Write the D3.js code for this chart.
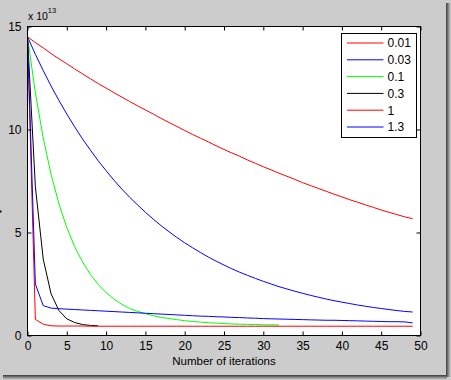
<!DOCTYPE html>
<html><head><meta charset="utf-8">
<script src="https://cdn.jsdelivr.net/npm/d3@7"></script>
<style>
html,body{margin:0;padding:0;background:#cccccc;}
svg{display:block;}
text{font-family:"Liberation Sans",Arial,sans-serif;fill:#000;}
</style></head>
<body>
<svg id="chart" width="451" height="380"></svg>
<script>
// ---- data (values in units of 1e13) ----
const seriesNames = ["0.01","0.03","0.1","0.3","1","1.3"];
const seriesColors = ["#ff0000","#0000ff","#00ff00","#000000","#ff0000","#0000ff"];
const xTicks = [0,5,10,15,20,25,30,35,40,45,50];
const yTicks = [0,5,10,15];
const exponentLabel = "13";
const xLabel = "Number of iterations";

const alpha001 = [14.50,14.22,13.96,13.69,13.43,13.19,12.94,12.70,12.46,12.23,12.01,11.79,11.57,11.36,11.15,10.95,10.75,10.54,10.34,10.15,9.95,9.76,9.58,9.40,9.21,9.03,8.86,8.70,8.52,8.36,8.19,8.04,7.88,7.73,7.58,7.42,7.28,7.14,7.00,6.86,6.73,6.59,6.47,6.34,6.22,6.09,5.98,5.87,5.76,5.67];
const alpha003 = [14.50,13.65,12.86,12.11,11.41,10.75,10.13,9.54,9.00,8.48,8.00,7.54,7.11,6.71,6.34,5.98,5.65,5.33,5.04,4.76,4.50,4.26,4.03,3.81,3.61,3.42,3.24,3.07,2.92,2.77,2.63,2.50,2.37,2.26,2.15,2.05,1.95,1.86,1.77,1.69,1.62,1.55,1.48,1.42,1.36,1.31,1.26,1.21,1.17,1.14];
const alpha01 = [14.50,11.78,9.59,7.82,6.39,5.24,4.31,3.57,2.96,2.48,2.08,1.77,1.51,1.31,1.17,1.06,0.96,0.88,0.82,0.77,0.72,0.68,0.65,0.62,0.60,0.58,0.56,0.55,0.54,0.53,0.52,0.52,0.51];
const alpha03 = [14.50,7.22,3.71,2.02,1.21,0.81,0.63,0.53,0.49,0.47];
const alpha1 = [14.50,0.78,0.55,0.47,0.46,0.46,0.46,0.46,0.45,0.45,0.45,0.45,0.45,0.45,0.45,0.45,0.45,0.45,0.45,0.45,0.45,0.45,0.45,0.45,0.45,0.45,0.45,0.45,0.45,0.45,0.45,0.45,0.45,0.45,0.45,0.45,0.45,0.45,0.45,0.45,0.45,0.45,0.45,0.45,0.45,0.45,0.45,0.45,0.45,0.45];
const alpha13 = [14.50,2.50,1.45,1.33,1.30,1.28,1.26,1.24,1.22,1.20,1.18,1.16,1.14,1.12,1.10,1.08,1.06,1.04,1.02,1.00,0.98,0.96,0.94,0.93,0.91,0.90,0.88,0.87,0.85,0.84,0.82,0.81,0.80,0.79,0.78,0.77,0.76,0.75,0.74,0.74,0.73,0.72,0.71,0.70,0.69,0.68,0.67,0.67,0.66,0.61];

const seriesValues = [alpha001, alpha003, alpha01, alpha03, alpha1, alpha13];

// ---- layout ----
const svg = d3.select("#chart");
const L = 27.5, R = 420.5, T = 26.5, B = 335.5;

const x = d3.scaleLinear().domain([0,50]).range([L,R]);
const y = d3.scaleLinear().domain([0,15]).range([B,T]);

// window shadow (right & bottom)
const defs = svg.append("defs");
const gr = defs.append("linearGradient").attr("id","shR").attr("x1","0").attr("x2","1").attr("y1","0").attr("y2","0");
gr.append("stop").attr("offset","0").attr("stop-color","#3a3a3a");
gr.append("stop").attr("offset","1").attr("stop-color","#d8d8d8");
const gb = defs.append("linearGradient").attr("id","shB").attr("x1","0").attr("x2","0").attr("y1","0").attr("y2","1");
gb.append("stop").attr("offset","0").attr("stop-color","#3a3a3a");
gb.append("stop").attr("offset","1").attr("stop-color","#d8d8d8");
svg.append("rect").attr("x",446).attr("y",3).attr("width",5).attr("height",374).attr("fill","url(#shR)");
svg.append("rect").attr("x",3).attr("y",375).attr("width",444).attr("height",5).attr("fill","url(#shB)");

// plot background
svg.append("rect").attr("x",L).attr("y",T).attr("width",R-L).attr("height",B-T).attr("fill","#ffffff");

defs.append("clipPath").attr("id","clip").append("rect")
  .attr("x",L).attr("y",T).attr("width",R-L).attr("height",B-T);

// lines
const line = d3.line().x((d,i)=>x(i)).y(d=>y(d));
const lg = svg.append("g").attr("clip-path","url(#clip)");
seriesValues.forEach((vals,k)=>{
  lg.append("path").datum(vals).attr("d",line)
    .attr("fill","none").attr("stroke",seriesColors[k]).attr("stroke-width",1);
});

// axes
const fs = "12px";
const ax = svg.append("g").attr("transform",`translate(0,${B})`)
  .call(d3.axisBottom(x).tickValues(xTicks).tickSizeInner(-4).tickSizeOuter(0).tickPadding(6).tickFormat(d3.format("d")));
const axT = svg.append("g").attr("transform",`translate(0,${T})`)
  .call(d3.axisTop(x).tickValues(xTicks).tickSizeInner(-4).tickSizeOuter(0).tickFormat(""));
const ay = svg.append("g").attr("transform",`translate(${L},0)`)
  .call(d3.axisLeft(y).tickValues(yTicks).tickSizeInner(-4).tickSizeOuter(0).tickPadding(6).tickFormat(d3.format("d")));
const ayR = svg.append("g").attr("transform",`translate(${R},0)`)
  .call(d3.axisRight(y).tickValues(yTicks).tickSizeInner(-4).tickSizeOuter(0).tickFormat(""));
[ax,axT,ay,ayR].forEach(g=>{
  g.select(".domain").remove();
  g.selectAll("line").attr("stroke","#000").attr("stroke-width",1);
  g.selectAll("text").attr("font-size",fs).attr("font-family","Liberation Sans, Arial, sans-serif").attr("fill","#000");
});
// box
svg.append("rect").attr("x",L).attr("y",T).attr("width",R-L).attr("height",B-T)
  .attr("fill","none").attr("stroke","#000").attr("stroke-width",1);

// exponent label
const ex = svg.append("text").attr("x",28).attr("y",19.5).attr("font-size","10.5px");
ex.append("tspan").text("x 10");
ex.append("tspan").attr("dy",-7).attr("font-size","7.5px").text(exponentLabel);

// x label
svg.append("text").attr("x",(L+R)/2).attr("y",365).attr("text-anchor","middle")
  .attr("font-size","11.5px").text(xLabel);

// clipped y-label remnant
svg.append("rect").attr("x",0).attr("y",210.5).attr("width",1.5).attr("height",2).attr("fill","#000");

// legend
const lgX = 341.5, lgY = 33.5, lgW = 75, lgH = 104;
svg.append("rect").attr("x",lgX).attr("y",lgY).attr("width",lgW).attr("height",lgH)
  .attr("fill","#fff").attr("stroke","#000").attr("stroke-width",1);
seriesNames.forEach((n,k)=>{
  const yy = 43 + k*16.8;
  svg.append("line").attr("x1",347).attr("x2",383.5).attr("y1",yy).attr("y2",yy)
    .attr("stroke",seriesColors[k]).attr("stroke-width",1);
  svg.append("text").attr("x",387.5).attr("y",yy).attr("dy","0.36em")
    .attr("font-size","12px").text(n);
});
</script>
</body></html>
